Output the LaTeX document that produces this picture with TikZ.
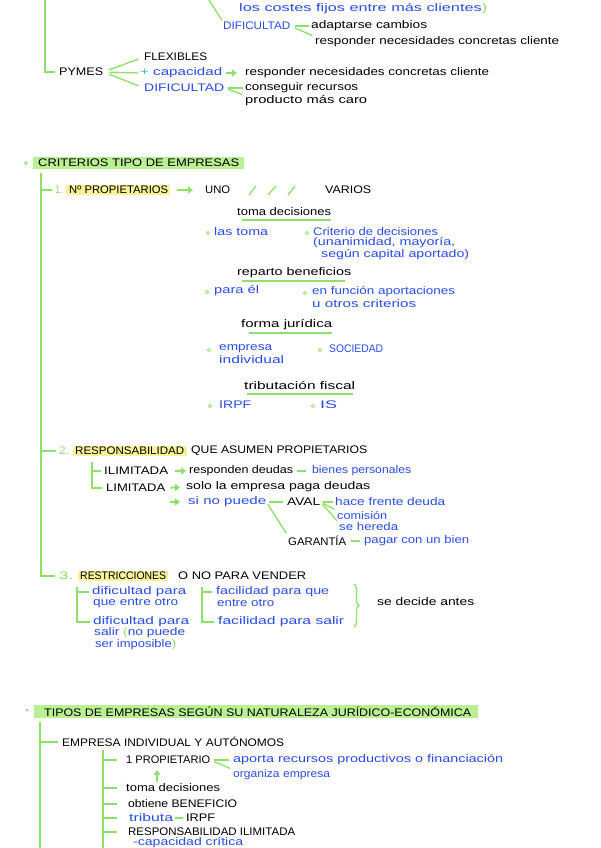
\documentclass[tikz,border=0pt]{standalone}
\usepackage{fontspec}
\setmainfont{Liberation Sans}
\usetikzlibrary{arrows.meta,decorations.pathreplacing}
\definecolor{gr}{RGB}{140,226,100}
\definecolor{hgr}{RGB}{184,240,146}
\definecolor{hye}{RGB}{248,243,150}
\definecolor{bl}{RGB}{40,78,232}
\definecolor{tl}{RGB}{40,200,200}
\newcommand\fw[2]{\resizebox{#1pt}{\height}{#2}}
\begin{document}
\begin{tikzpicture}[x=1pt,y=-1pt,
 tb/.style={anchor=west,inner sep=0pt,font=\fontsize{11}{12}\selectfont,text=black},
 tbl/.style={tb,text=bl},
 tgr/.style={tb,text=gr},
 gl/.style={draw=gr,line width=1.3pt},
 ar/.style={gl,line width=1.8pt,-{Triangle[length=5pt,width=7pt]}},
 bul/.style={draw=gr,line width=0.8pt}]
\fill[white] (0,0) rectangle (600,848);
\useasboundingbox (0,0) rectangle (600,848);

% ---------- top part ----------
\node[tbl] (cost) at (239,9) {\fw{248}{los costes fijos entre más clientes\textcolor{gr}{)}}};
\node[tbl] (dif1) at (223,26) {\fw{67}{DIFICULTAD}};
\node[tb] (adap) at (311,26) {\fw{116}{adaptarse cambios}};
\node[tb] (resp1) at (315,42) {\fw{244}{responder necesidades concretas cliente}};
\coordinate (t1) at (209,0);
\draw[gl,shorten >=2pt] (t1) -- (dif1.north west);
\draw[gl,shorten <=5pt,shorten >=2pt] (dif1.east) -- (adap.west);
\draw[gl,shorten <=5pt,shorten >=3pt] (dif1.east) -- (resp1.north west);

\node[tb] (pymes) at (59,72) {\fw{44}{PYMES}};
\coordinate (t0) at (45,0);
\draw[gl,shorten >=4pt] (t0) |- (pymes.west);
\node[tb] (flex) at (144,57) {\fw{63}{FLEXIBLES}};
\node[tbl] (cap) at (140,73) {\fw{82}{\textcolor{tl}{+} capacidad}};
\node[tb] (resp2) at (245,73) {\fw{244}{responder necesidades concretas cliente}};
\node[tbl] (dif2) at (144,88) {\fw{80}{DIFICULTAD}};
\node[tb] (cons) at (245,88) {\fw{113}{conseguir recursos}};
\node[tb] (prod) at (245,101) {\fw{122}{producto más caro}};
\draw[gl,shorten <=6pt,shorten >=6pt] (pymes.east) -- (flex.west);
\draw[gl,shorten <=6pt,shorten >=2pt] (pymes.east) -- (cap.west);
\draw[gl,shorten <=6pt,shorten >=6pt] (pymes.east) -- (dif2.west);
\draw[ar,shorten <=4pt,shorten >=8pt] (cap.east) -- (resp2.west);
\draw[gl,shorten <=4pt,shorten >=2pt] (dif2.east) -- (cons.west);
\draw[gl,shorten <=4pt,shorten >=3pt] (dif2.east) -- (prod.north west);

% ---------- CRITERIOS ----------
\draw[bul] (26,163) circle (1.6pt);
\fill[hgr] (33,157) rectangle (244,169);
\node[tb] (crit) at (38,163) {\fw{201}{CRITERIOS TIPO DE EMPRESAS}};
\coordinate (v2) at (41,173);

\node[tgr] (n1) at (55,190) {\fw{8}{1.}};
\fill[hye] (66,185) rectangle (170,195);
\node[tb] (prop) at (69,190) {\fw{99}{Nº PROPIETARIOS}};
\draw[gl,shorten >=3pt] (v2 |- n1.west) -- (n1.west);
\node[tb] (uno) at (205,190) {\fw{25}{UNO}};
\node[tb] (var) at (325,190) {\fw{46}{VARIOS}};
\draw[ar,shorten <=9pt,shorten >=12pt] (prop.east) -- (uno.west);
\draw[gl] (249,195) -- (256,186) (268,195) -- (276,186) (288,195) -- (295,186);

\node[tb] (toma) at (237,212) {\fw{94}{toma decisiones}};
\draw[gl] (242,220) -- (331,220);
\draw[bul] (208,233) circle (1.6pt);
\node[tbl] (lt) at (214,232) {\fw{54}{las toma}};
\draw[bul] (307,233) circle (1.6pt);
\node[tbl] (cd1) at (313,232) {\fw{125}{Criterio de decisiones}};
\node[tbl] (cd2) at (313,243) {\fw{142}{(unanimidad, mayoría,}};
\node[tbl] (cd3) at (321,255) {\fw{148}{según capital aportado)}};

\node[tb] (rep) at (237,273) {\fw{114}{reparto beneficios}};
\draw[gl] (242,281) -- (345,281);
\draw[bul] (207,292) circle (1.6pt);
\node[tbl] (pe) at (214,291) {\fw{45}{para él}};
\draw[bul] (305,293) circle (1.6pt);
\node[tbl] (ef1) at (312,292) {\fw{143}{en función aportaciones}};
\node[tbl] (ef2) at (312,304) {\fw{104}{u otros criterios}};

\node[tb] (fj) at (241,325) {\fw{91}{forma jurídica}};
\draw[gl] (249,333) -- (332,333);
\draw[bul] (209,350) circle (1.6pt);
\node[tbl] (ei1) at (219,349) {\fw{53}{empresa}};
\node[tbl] (ei2) at (219,360) {\fw{65}{individual}};
\draw[bul] (320,350) circle (1.6pt);
\node[tbl] (soc) at (329,349) {\fw{54}{SOCIEDAD}};

\node[tb] (tf) at (244,386) {\fw{111}{tributación fiscal}};
\draw[gl] (247,394) -- (353,394);
\draw[bul] (210,406) circle (1.6pt);
\node[tbl] (irpf1) at (219,405) {\fw{32}{IRPF}};
\draw[bul] (313,406) circle (1.6pt);
\node[tbl] (is) at (320,405) {\fw{17}{IS}};

% 2.
\node[tgr] (n2) at (59,451) {\fw{10}{2.}};
\fill[hye] (73,446) rectangle (187,456);
\node[tb] (resp) at (75,451) {\fw{109}{RESPONSABILIDAD}};
\node[tb] (que) at (191,451) {\fw{176}{QUE ASUMEN PROPIETARIOS}};
\draw[gl,shorten >=3pt] (v2 |- n2.west) -- (n2.west);
\node[tb] (ilim) at (104,471) {\fw{64}{ILIMITADA}};
\node[tb] (lim) at (106,488) {\fw{59}{LIMITADA}};
\coordinate (v3) at (92,462);
\draw[gl,shorten >=3pt] (v3) |- (ilim.west);
\draw[gl,shorten >=4pt] (v3) |- (lim.west);
\node[tb] (rd) at (189,471) {\fw{104}{responden deudas}};
\draw[ar,shorten <=7pt,shorten >=3pt] (ilim.east) -- (rd.west);
\node[tbl] (bp) at (312,471) {\fw{99}{bienes personales}};
\draw[gl,shorten <=4pt,shorten >=6pt] (rd.east) -- (bp.west);
\node[tb] (solo) at (186,487) {\fw{184}{solo la empresa paga deudas}};
\draw[ar,shorten <=5pt,shorten >=6pt] (lim.east) -- (solo.west);
\node[tbl] (sinp) at (188,502) {\fw{78}{si no puede}};
\coordinate (a3) at (170,502);
\draw[ar,shorten >=8pt] (a3) -- (sinp.west);
\node[tb] (aval) at (287,502) {\fw{33}{AVAL}};
\draw[gl,shorten <=3pt,shorten >=4pt] (sinp.east) -- (aval.west);
\node[tbl] (hfd) at (335,502) {\fw{110}{hace frente deuda}};
\node[tbl] (com) at (337,515) {\fw{50}{comisión}};
\node[tbl] (seh) at (339,527) {\fw{59}{se hereda}};
\draw[gl,shorten <=3pt,shorten >=2pt] (aval.east) -- (hfd.west);
\draw[gl,shorten <=3pt,shorten >=3pt] (aval.east) -- (com.north west);
\draw[gl,shorten <=3pt,shorten >=3pt] (aval.east) -- (seh.north west);
\node[tb] (gar) at (288,541) {\fw{58}{GARANTÍA}};
\draw[gl,shorten <=3pt,shorten >=3pt] (sinp.east) -- (gar.north west);
\node[tbl] (pcb) at (364,541) {\fw{105}{pagar con un bien}};
\draw[gl,shorten <=5pt,shorten >=4pt] (gar.east) -- (pcb.west);

% 3.
\node[tgr] (n3) at (59,576) {\fw{14}{3.}};
\fill[hye] (78,571) rectangle (168,581);
\node[tb] (rest) at (80,576) {\fw{86}{RESTRICCIONES}};
\node[tb] (onp) at (178,576) {\fw{128}{O NO PARA VENDER}};
\draw[gl,shorten >=4pt] (v2) |- (n3.west);

\coordinate (v4) at (77,587);
\node[tbl] (d1a) at (92,592) {\fw{94}{dificultad para}};
\node[tbl] (d1b) at (93,603) {\fw{85}{que entre otro}};
\node[tbl] (d2a) at (93,622) {\fw{96}{dificultad para}};
\node[tbl] (d2b) at (94,633) {\fw{91}{salir \textcolor{gr}{(}no puede}};
\node[tbl] (d2c) at (95,645) {\fw{81}{ser imposible\textcolor{gr}{)}}};
\draw[gl,shorten >=3pt] (v4) |- (d1a.west);
\draw[gl,shorten >=3pt] (v4) |- (d2a.west);

\coordinate (v5) at (202,587);
\node[tbl] (f1a) at (216,592) {\fw{113}{facilidad para que}};
\node[tbl] (f1b) at (217,603) {\fw{57}{entre otro}};
\node[tbl] (f2) at (218,622) {\fw{126}{facilidad para salir}};
\draw[gl,shorten >=4pt] (v5) |- (f1a.west);
\draw[gl,shorten >=4pt] (v5) |- (f2.west);
\draw[gl,decorate,decoration={brace,amplitude=5pt}] (354,584) -- (354,627);
\node[tb] (sda) at (377,602) {\fw{97}{se decide antes}};

% ---------- TIPOS ----------
\fill[gr] (27,710) circle (1.3pt);
\fill[hgr] (34,705) rectangle (478,718);
\node[tb] (tip) at (44,712) {\fw{427}{TIPOS DE EMPRESAS SEGÚN SU NATURALEZA JURÍDICO-ECONÓMICA}};
\coordinate (v6) at (40,722);
\coordinate (v6e) at (40,848);
\draw[gl] (v6) -- (v6e);
\node[tb] (emp) at (62,742) {\fw{222}{EMPRESA INDIVIDUAL Y AUTÓNOMOS}};
\draw[gl,shorten >=4pt] (v6 |- emp.west) -- (emp.west);
\coordinate (v7) at (103,750);
\coordinate (v7e) at (103,848);
\draw[gl] (v7) -- (v7e);
\node[tb] (p1) at (126,760) {\fw{84}{1 PROPIETARIO}};
\node[tb] (td) at (126,788) {\fw{94}{toma decisiones}};
\node[tb] (ob) at (128,804) {\fw{109}{obtiene BENEFICIO}};
\node[tbl] (trib) at (129,818) {\fw{44}{tributa}};
\node[tb] (irpf2) at (186,818) {\fw{29}{IRPF}};
\node[tb] (ri) at (128,832) {\fw{167}{RESPONSABILIDAD ILIMITADA}};
\node[tbl] (cc) at (133,843) {\fw{110}{-capacidad crítica}};
\draw[gl,shorten >=9pt] (v7 |- p1.west) -- (p1.west);
\draw[gl,shorten >=9pt] (v7 |- td.west) -- (td.west);
\draw[gl,shorten >=11pt] (v7 |- ob.west) -- (ob.west);
\draw[gl,shorten >=12pt] (v7 |- trib.west) -- (trib.west);
\draw[gl,shorten >=11pt] (v7 |- ri.west) -- (ri.west);
\draw[gl,shorten <=2pt,shorten >=3pt] (trib.east) -- (irpf2.west);
\node[tbl] (apo) at (233,760) {\fw{270}{aporta recursos productivos o financiación}};
\node[tbl] (org) at (233,775) {\fw{97}{organiza empresa}};
\draw[gl,shorten <=4pt,shorten >=4pt] (p1.east) -- (apo.west);
\draw[gl,shorten <=4pt,shorten >=3pt] (p1.east) -- (org.north west);
\draw[ar,line width=1.5pt,shorten <=2pt,shorten >=6pt] ([xshift=31pt]td.north west) -- ([xshift=31pt]p1.south west);
\end{tikzpicture}
\end{document}
